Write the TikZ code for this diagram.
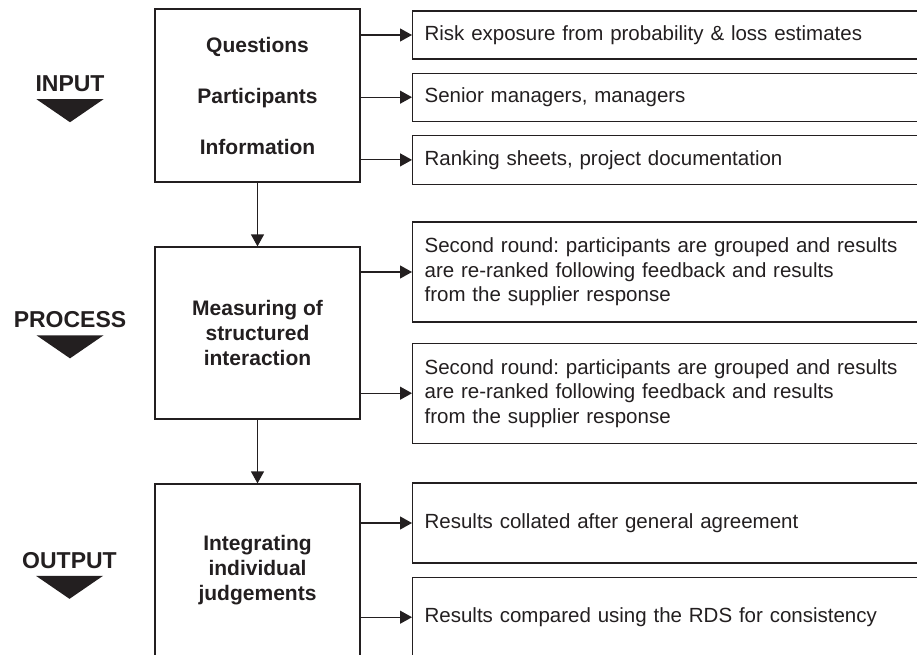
\documentclass[tikz,border=0pt]{standalone}
\usepackage{fontspec}
\setmainfont{Liberation Sans}
\usepackage{xcolor}
\usepackage{tikz}
\usetikzlibrary{arrows.meta, positioning, calc}
\definecolor{diagink}{HTML}{231F20}
\frenchspacing
\tikzset{
  stagebox/.style={draw=diagink, line width=1.2pt, align=center, text=diagink,
                   font=\fontsize{21}{25}\selectfont\bfseries,
                   minimum width=205pt, inner sep=0pt},
  notebox/.style={draw=diagink, line width=1.2pt, align=left, text=diagink,
                  font=\fontsize{20.5}{24.5}\selectfont, text width=494pt,
                  inner xsep=12pt, inner ysep=0pt, anchor=west},
  phaselbl/.style={font=\fontsize{23}{27}\selectfont\bfseries, text=diagink, inner sep=0pt},
  flow/.style={-{Triangle[length=12pt, width=13pt]}, line width=1.2pt, draw=diagink},
}

\begin{document}
\begin{tikzpicture}[x=1pt, y=-1pt]
  \useasboundingbox (0,0) rectangle (917,655);
  \clip (0,0) rectangle (917,655);

  % stages
  \node[stagebox, minimum height=173pt, font=\fontsize{21}{51}\selectfont\bfseries]
    (qbox) at (257.5,95.5) {Questions\\Participants\\Information};
  \node[stagebox, minimum height=172pt] (mbox) at (257.5,333) {Measuring of\\structured\\interaction};
  \node[stagebox, minimum height=173pt] (ibox) at (257.5,570.5) {Integrating\\individual\\judgements};

  % phase labels
  \node[phaselbl] (inlbl) at (70,84) {INPUT};
  \node[phaselbl] (prlbl) at (70,320) {PROCESS};
  \node[phaselbl] (outlbl) at (69.5,560.5) {OUTPUT};
  \fill[diagink] ($(inlbl.south)+(-33.5,7)$) -- ++(67,0) -- ++(-33.5,23) -- cycle;
  \fill[diagink] ($(prlbl.south)+(-33.5,7)$) -- ++(67,0) -- ++(-33.5,23) -- cycle;
  \fill[diagink] ($(outlbl.south)+(-33.5,7)$) -- ++(67,0) -- ++(-33.5,23) -- cycle;

  % notes
  \node[notebox, minimum height=48pt] (r1) at (412,35) {Risk exposure from probability \& loss estimates};
  \node[notebox, minimum height=48pt, below=13pt of r1.south west, anchor=north west] (r2) {Senior managers, managers};
  \node[notebox, minimum height=49pt, below=13pt of r2.south west, anchor=north west] (r3) {Ranking sheets, project documentation};
  \node[notebox, minimum height=100pt] (r4) at (412,272) {Second round: participants are grouped and results\\are re-ranked following feedback and results\\from the supplier response};
  \node[notebox, minimum height=100pt, below=20pt of r4.south west, anchor=north west] (r5) {Second round: participants are grouped and results\\are re-ranked following feedback and results\\from the supplier response};
  \node[notebox, minimum height=80pt] (r6) at (412,523) {Results collated after general agreement};
  \node[notebox, minimum height=80pt, below=13pt of r6.south west, anchor=north west] (r7) {Results compared using the RDS for consistency};

  \draw[flow] (qbox) -- (mbox);
  \draw[flow] (mbox) -- (ibox);
  \draw[flow] (qbox.east |- r1.west) -- (r1.west);
  \draw[flow] (qbox.east |- r2.west) -- (r2.west);
  \draw[flow] (qbox.east |- r3.west) -- (r3.west);
  \draw[flow] (mbox.east |- r4.west) -- (r4.west);
  \draw[flow] (mbox.east |- r5.west) -- (r5.west);
  \draw[flow] (ibox.east |- r6.west) -- (r6.west);
  \draw[flow] (ibox.east |- r7.west) -- (r7.west);
\end{tikzpicture}
\end{document}
